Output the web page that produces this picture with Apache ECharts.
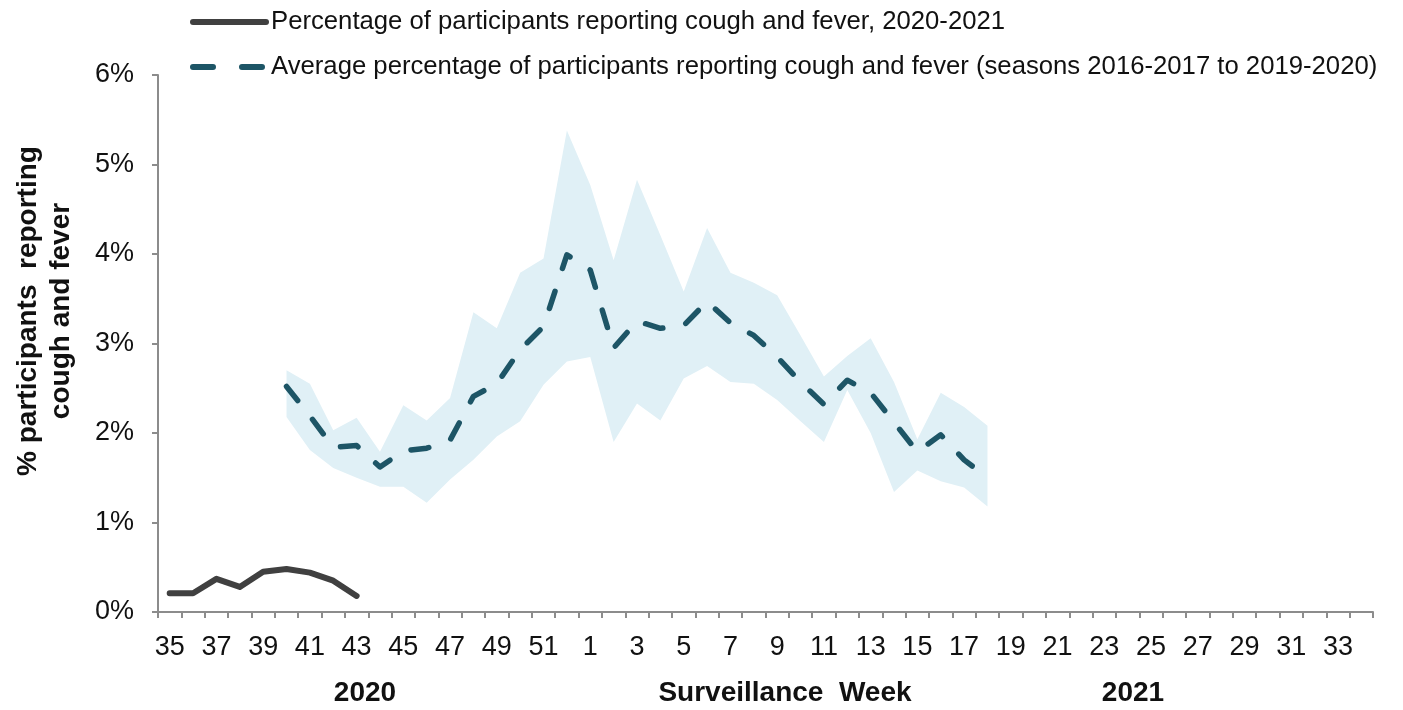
<!DOCTYPE html>
<html>
<head>
<meta charset="utf-8">
<script src="https://cdn.jsdelivr.net/npm/echarts@6/dist/echarts.min.js"></script>
<style>html,body{margin:0;padding:0;background:#fff;}#c{width:1403px;height:710px;}</style>
</head>
<body>
<div id="c"></div>
<script>
const weeks = ['35','36','37','38','39','40','41','42','43','44','45','46','47','48','49','50','51','52',
  '1','2','3','4','5','6','7','8','9','10','11','12','13','14','15','16','17','18','19','20','21','22','23','24','25','26','27','28','29','30','31','32','33','34'];
const current = [0.21,0.21,0.37,0.28,0.45,0.48,0.44,0.35,0.18];
const average = [null,null,null,null,null,2.52,2.19,1.84,1.86,1.62,1.80,1.83,1.92,2.41,2.55,2.93,3.19,3.99,
  3.82,2.95,3.25,3.17,3.20,3.47,3.23,3.09,2.85,2.57,2.32,2.59,2.45,2.12,1.79,1.98,1.70,1.50];
const upper = [null,null,null,null,null,2.70,2.55,2.03,2.17,1.79,2.31,2.14,2.39,3.35,3.17,3.79,3.95,5.38,
  4.77,3.93,4.83,4.21,3.58,4.29,3.79,3.68,3.54,3.09,2.63,2.86,3.06,2.57,1.93,2.45,2.29,2.08];
const lower = [null,null,null,null,null,2.18,1.81,1.61,1.50,1.40,1.40,1.22,1.48,1.70,1.96,2.13,2.54,2.80,
  2.85,1.90,2.33,2.14,2.61,2.75,2.57,2.55,2.37,2.13,1.90,2.48,2.00,1.34,1.58,1.46,1.39,1.18];
const yTicks = [0,1,2,3,4,5,6];
const nameCurrent = 'Percentage of participants reporting cough and fever, 2020-2021';
const nameAverage = 'Average percentage of participants reporting cough and fever (seasons 2016-2017 to 2019-2020)';

const bandSpan = upper.map((u,i)=> (u==null||lower[i]==null) ? null : +(u-lower[i]).toFixed(3));

const chart = echarts.init(document.getElementById('c'));
const FONT = '"Liberation Sans", Arial, sans-serif';
const BOLD = 'bold 28px "Liberation Sans", Arial, sans-serif';
chart.setOption({
  animation:false,
  textStyle:{fontFamily:FONT},
  grid:{left:158,right:30,top:75,bottom:98,containLabel:false},
  legend:{
    orient:'vertical',left:185,top:4,itemWidth:73,itemHeight:26,itemGap:19,
    itemStyle:{opacity:0,color:'transparent',borderWidth:0},
    data:[
      {name:nameCurrent,lineStyle:{width:6,cap:'round',color:'#404040'}},
      {name:nameAverage,lineStyle:{width:6,cap:'round',type:[20,29],color:'#1d5566'}}
    ],
    textStyle:{fontSize:25.7,color:'#111',fontFamily:FONT}
  },
  xAxis:{
    type:'category',data:weeks,boundaryGap:true,
    axisLine:{lineStyle:{color:'#8c8c8c',width:2}},
    axisTick:{show:true,alignWithLabel:false,interval:0,length:6,lineStyle:{color:'#8c8c8c',width:2}},
    axisLabel:{interval:1,fontSize:27,color:'#111',margin:22,fontFamily:FONT},
    splitLine:{show:false}
  },
  yAxis:{
    type:'value',min:yTicks[0],max:yTicks[yTicks.length-1],interval:1,
    axisLine:{show:true,lineStyle:{color:'#8c8c8c',width:2}},
    axisTick:{show:true,length:6,lineStyle:{color:'#8c8c8c',width:2}},
    axisLabel:{formatter:'{value}%',fontSize:27,color:'#111',margin:24,fontFamily:FONT},
    splitLine:{show:false}
  },
  graphic:[
    {type:'text',x:45,y:311,rotation:Math.PI/2,
      style:{text:'% participants  reporting\ncough and fever',font:BOLD,fill:'#111',align:'center',verticalAlign:'middle',lineHeight:33}},
    {type:'text',x:365,y:693,style:{text:'2020',font:BOLD,fill:'#111',align:'center',verticalAlign:'middle'}},
    {type:'text',x:785,y:693,style:{text:'Surveillance  Week',font:BOLD,fill:'#111',align:'center',verticalAlign:'middle'}},
    {type:'text',x:1133,y:693,style:{text:'2021',font:BOLD,fill:'#111',align:'center',verticalAlign:'middle'}}
  ],
  series:[
    {name:'bandLower',type:'line',data:lower,stack:'band',symbol:'none',lineStyle:{opacity:0},silent:true,z:1},
    {name:'bandSpan',type:'line',data:bandSpan,stack:'band',symbol:'none',lineStyle:{opacity:0},
      areaStyle:{color:'#e0f0f6',opacity:1},silent:true,z:1},
    {name:nameAverage,type:'line',data:average,symbol:'none',z:3,
      lineStyle:{color:'#1d5566',width:5.5,type:[18,24],cap:'round',join:'round'},
      itemStyle:{color:'#1d5566'}},
    {name:nameCurrent,type:'line',data:current,symbol:'none',z:4,
      lineStyle:{color:'#404040',width:6,cap:'round',join:'round'},
      itemStyle:{color:'#404040'}}
  ]
});
</script>
</body>
</html>
